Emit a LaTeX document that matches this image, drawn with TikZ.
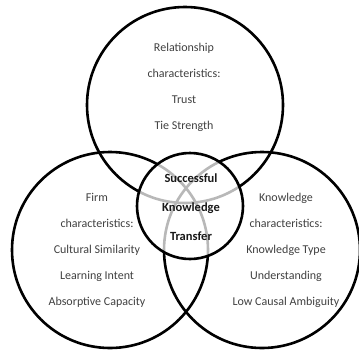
\documentclass[tikz,border=0pt]{standalone}
\usepackage{fontspec}
\setmainfont{Carlito}
\begin{document}
\begin{tikzpicture}[x=1pt,y=-1pt,
  ring/.style={circle, draw=black, line width=2.6pt, inner sep=0pt},
  bigring/.style={ring, minimum size=196pt},
  hubring/.style={ring, minimum size=106pt, fill=white, fill opacity=0.72, draw opacity=1},
  txt/.style={anchor=base, inner sep=0pt, text=black!75, font=\fontsize{12}{14}\selectfont},
  hubtxt/.style={anchor=base, inner sep=0pt, text=black!90, font=\fontsize{12.5}{14}\selectfont\bfseries}]
\useasboundingbox (0,0) rectangle (359,349);
\node[bigring] (topc) at (185,105) {};
\node[bigring] (leftc) at (110,250) {};
\node[bigring] (rightc) at (262,250) {};
\node[hubring] (hub) at (190,206) {};
% top circle text
\node[txt] (t1) at (184,51) {Relationship};
\node[txt] (t2) at (184,77) {characteristics:};
\node[txt] (t3) at (184,103) {Trust};
\node[txt] (t4) at (184,129) {Tie Strength};
% left circle text
\node[txt] (l1) at (97,201) {Firm};
\node[txt] (l2) at (97,227) {characteristics:};
\node[txt] (l3) at (97,253) {Cultural Similarity};
\node[txt] (l4) at (97,279) {Learning Intent};
\node[txt] (l5) at (97,305) {Absorptive Capacity};
% right circle text
\node[txt] (r1) at (286,201) {Knowledge};
\node[txt] (r2) at (286,227) {characteristics:};
\node[txt] (r3) at (286,253) {Knowledge Type};
\node[txt] (r4) at (286,279) {Understanding};
\node[txt] (r5) at (286,305) {Low Causal Ambiguity};
% centre text
\node[hubtxt] (c1) at (191,182) {Successful};
\node[hubtxt] (c2) at (191,211) {Knowledge};
\node[hubtxt] (c3) at (191,240) {Transfer};
\end{tikzpicture}
\end{document}
